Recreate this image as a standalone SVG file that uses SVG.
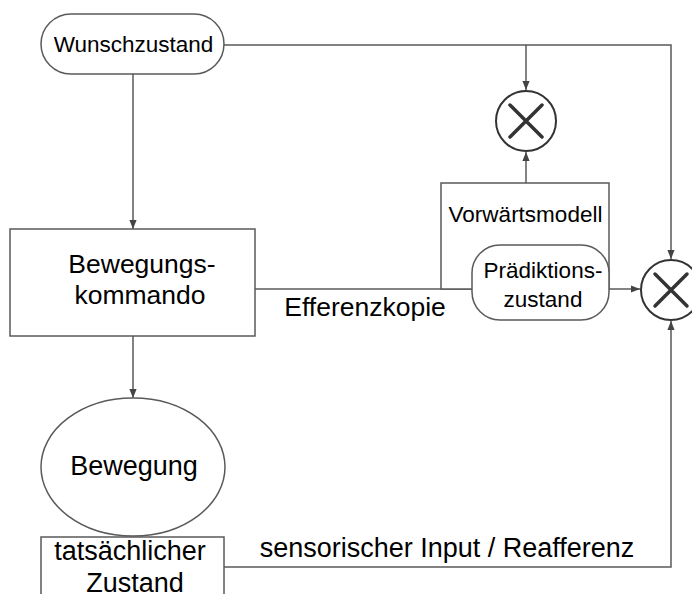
<svg xmlns="http://www.w3.org/2000/svg" width="692" height="594" viewBox="0 0 692 594">
<style>
.ln{fill:none;stroke:#5a5a5a;stroke-width:1.5}
.nd{fill:#fff;stroke:#5a5a5a;stroke-width:1.5}
.cx{fill:#fff;stroke:#333;stroke-width:2}
.xx{stroke:#333;stroke-width:3.5;stroke-linecap:round}
.t{font-family:"Liberation Sans",Arial,sans-serif;fill:#000;text-anchor:middle}
</style>
<defs>
<marker id="ar" viewBox="0 0 10 10" refX="10" refY="5" markerWidth="9" markerHeight="9" markerUnits="userSpaceOnUse" orient="auto">
<path d="M0,1 L10,5 L0,9 z" fill="#444"/>
</marker>
</defs>
<rect width="692" height="594" fill="#fff"/>
<g id="connectors">
<path class="ln" d="M224,45 H671 V259" marker-end="url(#ar)"/>
<path class="ln" d="M526,45 V90" marker-end="url(#ar)"/>
<path class="ln" d="M526,183 V152" marker-end="url(#ar)"/>
<path class="ln" d="M133,74 V229" marker-end="url(#ar)"/>
<path class="ln" d="M133,336 V398" marker-end="url(#ar)"/>
<path class="ln" d="M255,289 H472"/>
<path class="ln" d="M609,289 H640" marker-end="url(#ar)"/>
<path class="ln" d="M224,567 H671 V321" marker-end="url(#ar)"/>
<text class="t" x="365" y="316" font-size="26.5">Efferenzkopie</text>
<text class="t" x="447" y="557" font-size="27">sensorischer Input / Reafferenz</text>
</g>
<g id="wunschzustand">
<rect class="nd" x="41" y="14" width="183" height="60" rx="30"/>
<text class="t" x="133.5" y="52" font-size="22.5">Wunschzustand</text>
</g>
<g id="vergleich1">
<circle class="cx" cx="526" cy="121" r="30"/>
<path class="xx" d="M510,105 L542,137 M542,105 L510,137"/>
</g>
<g id="vergleich2">
<circle class="cx" cx="671" cy="290" r="30"/>
<path class="xx" d="M655,274 L687,306 M687,274 L655,306"/>
</g>
<g id="bewegungskommando">
<rect class="nd" x="10" y="229" width="245" height="107"/>
<text class="t" x="142" y="273" font-size="26.5">Bewegungs-</text>
<text class="t" x="140" y="304" font-size="26.5">kommando</text>
</g>
<g id="vorwaertsmodell">
<rect class="nd" x="441" y="183" width="168" height="106"/>
<text class="t" x="525.5" y="222" font-size="22.5">Vorwärtsmodell</text>
</g>
<g id="praediktionszustand">
<rect class="nd" x="472" y="245" width="137" height="75" rx="28"/>
<text class="t" x="543" y="278" font-size="22.5">Prädiktions-</text>
<text class="t" x="543" y="307" font-size="22.5">zustand</text>
</g>
<g id="bewegung">
<ellipse class="nd" cx="133" cy="467" rx="92" ry="69"/>
<text class="t" x="134" y="475" font-size="27">Bewegung</text>
</g>
<g id="tatsaechlicher-zustand">
<rect class="nd" x="41" y="537" width="183" height="70"/>
<text class="t" x="130" y="560" font-size="27">tatsächlicher</text>
<text class="t" x="135" y="592" font-size="27">Zustand</text>
</g>
</svg>
